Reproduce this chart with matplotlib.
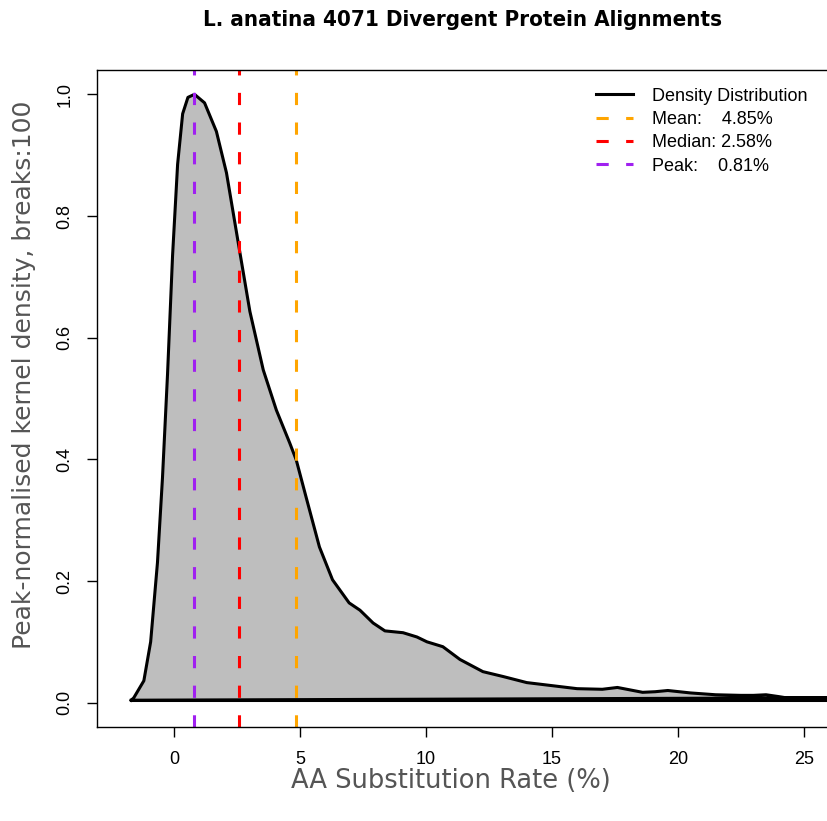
import numpy as np
import matplotlib
matplotlib.use("Agg")
import matplotlib.pyplot as plt

# density curve (x in %, y peak-normalised)
rate = [-1.7, -1.6, -1.2, -0.93, -0.66, -0.46, -0.26, -0.06, 0.14, 0.34, 0.55, 0.81,
        1.21, 1.68, 2.08, 2.58, 3.01, 3.54, 4.06, 4.59, 4.85, 5.24, 5.77, 6.29,
        6.95, 7.38, 7.9, 8.37, 9.09, 9.64, 10.04, 10.67, 11.35, 12.26, 13.06, 14.0,
        15.0, 16.0, 17.0, 17.6, 18.1, 18.6, 19.1, 19.6, 20.5, 21.5, 22.5, 23.0,
        23.5, 24.0, 24.3, 25.0, 26.0]
density = [0.004, 0.008, 0.036, 0.10, 0.23, 0.37, 0.54, 0.735, 0.885, 0.968, 0.995, 1.0,
           0.986, 0.939, 0.871, 0.748, 0.643, 0.547, 0.481, 0.427, 0.399, 0.338, 0.256, 0.202,
           0.164, 0.152, 0.131, 0.118, 0.115, 0.108, 0.100, 0.092, 0.071, 0.051, 0.043, 0.033,
           0.028, 0.023, 0.022, 0.025, 0.021, 0.017, 0.018, 0.020, 0.016, 0.013, 0.012, 0.012,
           0.013, 0.010, 0.008, 0.008, 0.008]
baseline = 0.004

mean_val, median_val, peak_val = 4.85, 2.58, 0.81
legend_labels = ["Density Distribution", "Mean:    4.85%", "Median: 2.58%", "Peak:    0.81%"]

fig = plt.figure(figsize=(8.27, 8.21), dpi=100)
ax = fig.add_axes([97 / 827, 1 - 727 / 821, (829 - 97) / 827, (727 - 70) / 821])

ax.fill_between(rate, baseline, density, color="#bebebe", lw=0)
ax.plot(rate + [rate[0]], density + [baseline], color="black", lw=2.2,
        solid_joinstyle="round")
ax.plot([rate[0], rate[-1]], [baseline, baseline], color="black", lw=2.2)

dash = dict(lw=2.2, dashes=(4, 5.7))
ax.axvline(mean_val, color="orange", **dash)
ax.axvline(median_val, color="red", **dash)
ax.axvline(peak_val, color="#a020f0", **dash)

ax.set_xlim(-3.06, 26.0)
ax.set_ylim(-0.04, 1.04)
ax.set_xticks([0, 5, 10, 15, 20, 25])
ax.set_yticks([0.0, 0.2, 0.4, 0.6, 0.8, 1.0])
ax.set_yticklabels(["0.0", "0.2", "0.4", "0.6", "0.8", "1.0"], rotation=90, va="center")
ax.tick_params(length=7, width=1, labelsize=13, pad=10)
for lab in ax.get_xticklabels() + ax.get_yticklabels():
    lab.set_family("Liberation Sans")
for s in ax.spines.values():
    s.set_linewidth(1)
ax.spines["right"].set_visible(False)

ax.set_xlabel("AA Substitution Rate (%)", fontsize=18.5, color="#555555",
              family="DejaVu Sans")
ax.xaxis.set_label_coords(0.484, -0.063)
ax.set_ylabel("Peak-normalised kernel density, breaks:100", fontsize=18, color="#555555",
              family="DejaVu Sans")
ax.yaxis.set_label_coords(-0.083, 0.536)
fig.suptitle("L. anatina 4071 Divergent Protein Alignments", x=463 / 827, y=1 - 20 / 821,
             va="center", fontsize=16, fontweight="bold", fontstretch="condensed",
             family="DejaVu Sans")

handles = [
    plt.Line2D([], [], color="black", lw=2.2),
    plt.Line2D([], [], color="orange", lw=2.2, dashes=(4, 5.7)),
    plt.Line2D([], [], color="red", lw=2.2, dashes=(4, 5.7)),
    plt.Line2D([], [], color="#a020f0", lw=2.2, dashes=(4, 5.7)),
]
ax.legend(handles, legend_labels, loc="upper left", bbox_to_anchor=(0.66, 0.998),
          frameon=False, handlelength=2.05, handletextpad=1.05, labelspacing=0.35,
          prop={"family": "Liberation Sans", "size": 13})

fig.savefig("out.png", dpi=100)
